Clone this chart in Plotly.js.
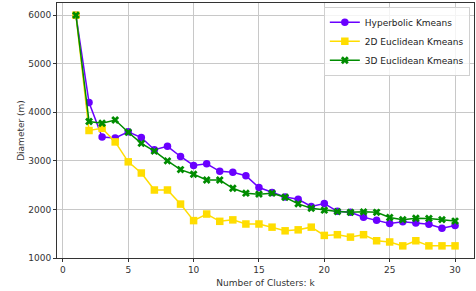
<!DOCTYPE html>
<html>
<head>
<meta charset="utf-8">
<script src="https://cdn.plot.ly/plotly-3.0.1.min.js"></script>
<style>html,body{margin:0;padding:0;background:#fff;}#chart{width:476px;height:291px;}</style>
</head>
<body>
<div id="chart"></div>
<script>
const clusters = [1,2,3,4,5,6,7,8,9,10,11,12,13,14,15,16,17,18,19,20,21,22,23,24,25,26,27,28,29,30];
const hyperbolic = [6000,4200,3490,3470,3600,3480,3230,3300,3090,2905,2940,2785,2765,2695,2450,2350,2255,2210,2060,2120,1960,1940,1840,1775,1710,1745,1720,1695,1615,1670];
const euclid2d = [6000,3625,3670,3390,2980,2750,2400,2400,2110,1770,1905,1755,1785,1700,1700,1635,1560,1580,1635,1465,1480,1430,1480,1355,1330,1250,1355,1250,1250,1250];
const euclid3d = [6000,3810,3775,3840,3590,3360,3200,3000,2820,2725,2605,2605,2435,2335,2315,2335,2250,2115,2025,1985,1955,1940,1950,1940,1835,1790,1820,1815,1790,1760];
const names = ["Hyperbolic Kmeans","2D Euclidean Kmeans","3D Euclidean Kmeans"];
const xTicks = [0,5,10,15,20,25,30];
const yTicks = [1000,2000,3000,4000,5000,6000];

const colors = ["#6a00ff","#ffdd00","#008c00"];
const symbols = ["circle","square","x"];
const series = [hyperbolic, euclid2d, euclid3d];

const traces = series.map((s,i)=>({
  x: clusters, y: s, name: names[i], type: "scatter", mode: "lines+markers",
  line: {color: colors[i], width: 1.5},
  marker: {symbol: symbols[i], size: i===2 ? 7 : 7.5, color: colors[i], line: {width: 0}}
}));

const FONT = "DejaVu Sans";
const axisCommon = {
  showline: true, linecolor: "#333", linewidth: 1, mirror: true,
  showgrid: true, gridcolor: "#c8c8c8", gridwidth: 1,
  zeroline: false, ticks: "outside", ticklen: 3, tickcolor: "#333",
  tickfont: {family: FONT, size: 9, color: "#333"}
};

const layout = {
  width: 476, height: 291,
  margin: {l: 57, r: 2, t: 3, b: 33},
  paper_bgcolor: "#fff", plot_bgcolor: "#fff",
  showlegend: true,
  legend: {
    x: 0.99, y: 0.985, xanchor: "right", yanchor: "top",
    bgcolor: "rgba(255,255,255,0.8)", bordercolor: "#d0d0d0", borderwidth: 1,
    font: {family: FONT, size: 9, color: "#222"},
    tracegroupgap: 0, itemwidth: 30
  },
  xaxis: Object.assign({}, axisCommon, {
    range: [-0.45, 31.45], tickvals: xTicks, ticktext: xTicks.map(String),
    title: {text: "Number of Clusters: k", font: {family: FONT, size: 9, color: "#333"}, standoff: 5}
  }),
  yaxis: Object.assign({}, axisCommon, {
    range: [1000, 6250], tickvals: yTicks, ticktext: yTicks.map(String),
    title: {text: "Diameter (m)", font: {family: FONT, size: 9, color: "#333"}, standoff: 2}
  })
};

Plotly.newPlot("chart", traces, layout, {displayModeBar: false, staticPlot: true});
</script>
</body>
</html>
